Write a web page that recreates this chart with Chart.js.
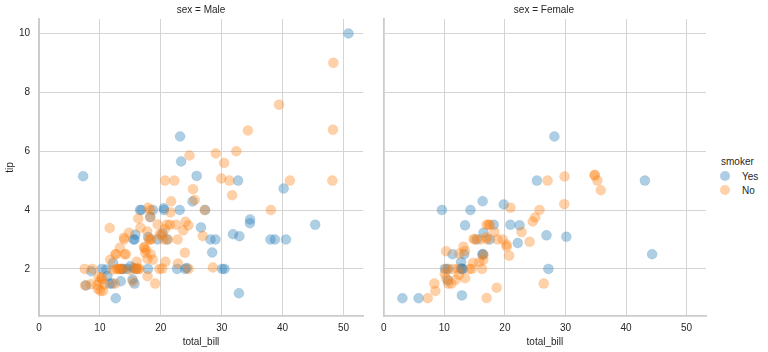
<!DOCTYPE html>
<html lang="en">
<head>
<meta charset="UTF-8">
<title>tips: total_bill vs tip by sex and smoker</title>
<script src="https://cdn.jsdelivr.net/npm/chart.js"></script>
<style>
    body {
        margin: 0;
        background: #ffffff;
        font-family: 'Liberation Sans', Arial, sans-serif;
        color: #262626;
    }
    .stage {
        position: relative;
        width: 768px;
        height: 352px;
        overflow: hidden;
    }
    .panel {
        position: absolute;
        top: 0;
        height: 352px;
    }
    .facet-title {
        position: absolute;
        top: 4px;
        font-size: 10px;
        text-align: center;
        white-space: nowrap;
        transform: translateX(-50%);
    }
    .legend {
        position: absolute;
        left: 716px;
        top: 156px;
        font-size: 10px;
    }
    .legend .head { margin-left: 5px; margin-bottom: 2px; }
    .legend .row { display: flex; align-items: center; height: 14px; }
    .legend .dot {
        width: 10px;
        height: 10px;
        border-radius: 50%;
        margin-left: 4px;
        margin-right: 12px;
    }
</style>
</head>
<body>
<div class="stage">
    <div class="panel" style="left:0;width:370px"><canvas id="male" width="370" height="352"></canvas></div>
    <div class="panel" style="left:375px;width:340px"><canvas id="female" width="340" height="352"></canvas></div>
    <div class="facet-title" style="left:201px">sex = Male</div>
    <div class="facet-title" style="left:544px">sex = Female</div>
    <div class="legend">
        <div class="head">smoker</div>
        <div class="row"><span class="dot" style="background:rgba(31,119,180,0.36)"></span>Yes</div>
        <div class="row"><span class="dot" style="background:rgba(255,127,14,0.36)"></span>No</div>
    </div>
</div>

<script>
// seaborn "tips" data, in row order
const totalBill = [
    16.99, 10.34, 21.01, 23.68, 24.59, 25.29, 8.77, 26.88, 15.04, 14.78,
    10.27, 35.26, 15.42, 18.43, 14.83, 21.58, 10.33, 16.29, 16.97, 20.65,
    17.92, 20.29, 15.77, 39.42, 19.82, 17.81, 13.37, 12.69, 21.7, 19.65,
    9.55, 18.35, 15.06, 20.69, 17.78, 24.06, 16.31, 16.93, 18.69, 31.27,
    16.04, 17.46, 13.94, 9.68, 30.4, 18.29, 22.23, 32.4, 28.55, 18.04,
    12.54, 10.29, 34.81, 9.94, 25.56, 19.49, 38.01, 26.41, 11.24, 48.27,
    20.29, 13.81, 11.02, 18.29, 17.59, 20.08, 16.45, 3.07, 20.23, 15.01,
    12.02, 17.07, 26.86, 25.28, 14.73, 10.51, 17.92, 27.2, 22.76, 17.29,
    19.44, 16.66, 10.07, 32.68, 15.98, 34.83, 13.03, 18.28, 24.71, 21.16,
    28.97, 22.49, 5.75, 16.32, 22.75, 40.17, 27.28, 12.03, 21.01, 12.46,
    11.35, 15.38, 44.3, 22.42, 20.92, 15.36, 20.49, 25.21, 18.24, 14.31,
    14.0, 7.25, 38.07, 23.95, 25.71, 17.31, 29.93, 10.65, 12.43, 24.08,
    11.69, 13.42, 14.26, 15.95, 12.48, 29.8, 8.52, 14.52, 11.38, 22.82,
    19.08, 20.27, 11.17, 12.26, 18.26, 8.51, 10.33, 14.15, 16.0, 13.16,
    17.47, 34.3, 41.19, 27.05, 16.43, 8.35, 18.64, 11.87, 9.78, 7.51,
    14.07, 13.13, 17.26, 24.55, 19.77, 29.85, 48.17, 25.0, 13.39, 16.49,
    21.5, 12.66, 16.21, 13.81, 17.51, 24.52, 20.76, 31.71, 10.59, 10.63,
    50.81, 15.81, 7.25, 31.85, 16.82, 32.9, 17.89, 14.48, 9.6, 34.63,
    34.65, 23.33, 45.35, 23.17, 40.55, 20.69, 20.9, 30.46, 18.15, 23.1,
    15.69, 19.81, 28.44, 15.48, 16.58, 7.56, 10.34, 43.11, 13.0, 13.51,
    18.71, 12.74, 13.0, 16.4, 20.53, 16.47, 26.59, 38.73, 24.27, 12.76,
    30.06, 25.89, 48.33, 13.27, 28.17, 12.9, 28.15, 11.59, 7.74, 30.14,
    12.16, 13.42, 8.58, 15.98, 13.42, 16.27, 10.09, 20.45, 13.28, 22.12,
    24.01, 15.69, 11.61, 10.77, 15.53, 10.07, 12.6, 32.83, 35.83, 29.03,
    27.18, 22.67, 17.82, 18.78
];

const tip = [
    1.01, 1.66, 3.5, 3.31, 3.61, 4.71, 2.0, 3.12, 1.96, 3.23,
    1.71, 5.0, 1.57, 3.0, 3.02, 3.92, 1.67, 3.71, 3.5, 3.35,
    4.08, 2.75, 2.23, 7.58, 3.18, 2.34, 2.0, 2.0, 4.3, 3.0,
    1.45, 2.5, 3.0, 2.45, 3.27, 3.6, 2.0, 3.07, 2.31, 5.0,
    2.24, 2.54, 3.06, 1.32, 5.6, 3.0, 5.0, 6.0, 2.05, 3.0,
    2.5, 2.6, 5.2, 1.56, 4.34, 3.51, 3.0, 1.5, 1.76, 6.73,
    3.21, 2.0, 1.98, 3.76, 2.64, 3.15, 2.47, 1.0, 2.01, 2.09,
    1.97, 3.0, 3.14, 5.0, 2.2, 1.25, 3.08, 4.0, 3.0, 2.71,
    3.0, 3.4, 1.83, 5.0, 2.03, 5.17, 2.0, 4.0, 5.85, 3.0,
    3.0, 3.5, 1.0, 4.3, 3.25, 4.73, 4.0, 1.5, 3.0, 1.5,
    2.5, 3.0, 2.5, 3.48, 4.08, 1.64, 4.06, 4.29, 3.76, 4.0,
    3.0, 1.0, 4.0, 2.55, 4.0, 3.5, 5.07, 1.5, 1.8, 2.92,
    2.31, 1.68, 2.5, 2.0, 2.52, 4.2, 1.48, 2.0, 2.0, 2.18,
    1.5, 2.83, 1.5, 2.0, 3.25, 1.25, 2.0, 2.0, 2.0, 2.75,
    3.5, 6.7, 5.0, 5.0, 2.3, 1.5, 1.36, 1.63, 1.73, 2.0,
    2.5, 2.0, 2.74, 2.0, 2.0, 5.14, 5.0, 3.75, 2.61, 2.0,
    3.5, 2.5, 2.0, 2.0, 3.0, 3.48, 2.24, 4.5, 1.61, 2.0,
    10.0, 3.16, 5.15, 3.18, 4.0, 3.11, 2.0, 2.0, 4.0, 3.55,
    3.68, 5.65, 3.5, 6.5, 3.0, 5.0, 3.5, 2.0, 3.5, 4.0,
    1.5, 4.19, 2.56, 2.02, 4.0, 1.44, 2.0, 5.0, 2.0, 2.0,
    4.0, 2.01, 2.0, 2.5, 4.0, 3.23, 3.41, 3.0, 2.03, 2.23,
    2.0, 5.16, 9.0, 2.5, 6.5, 1.1, 3.0, 1.5, 1.44, 3.09,
    2.2, 3.48, 1.92, 3.0, 1.58, 2.5, 2.0, 3.0, 2.72, 2.88,
    2.0, 3.0, 3.39, 1.47, 3.0, 1.25, 1.0, 1.17, 4.67, 5.92,
    2.0, 2.0, 1.75, 3.0
];

// M = Male, F = Female
const sex = (
    'FMMMFMMMMM' + 'MFMMFMFMFM' + 'MFFMMMMMMF' + 'MMFFMMMFMM' + 'MMMMMMMMMM' +
    'MFFMMMMFMM' + 'MMMMMMFFMM' + 'MFFFFMMMMM' + 'MMFMMFMMMM' + 'MMFFFMMMMM' +
    'FFFFFMMMMF' + 'MFMMFFMFFF' + 'MFMMFFMFFM' + 'MFFFFFFFMF' + 'FMMFFFFFMM' +
    'MMMMMFMFFM' + 'MMFMFMMMFF' + 'MMMMMMMMFM' + 'MMMMMMFMFM' + 'MFMMMMMFFM' +
    'MFFFMFMMMF' + 'MMMFFFMMMF' + 'MFMFMFFMMF' + 'MMMMMMMMFM' + 'FMMF'
).split('');

// Y = smoker, N = non-smoker
const smoker = (
    'NNNNNNNNNN' + 'NNNNNNNNNN' + 'NNNNNNNNNN' + 'NNNNNNNNNN' + 'NNNNNNNNNN' +
    'NNNNNNYNYN' + 'YYYYNNNYNY' + 'NNYYNNYNNN' + 'YNNYNNNNNN' + 'YNYYNYYYYN' +
    'YYYYNYYYNY' + 'NNNNNNNNNN' + 'NNNNNNNNNN' + 'NNNNNNNNYN' + 'NNNNNNNNNN' +
    'NNNNNNNNNN' + 'NNNNYNNNYY' + 'YYYYYYYYYY' + 'YYYYYNYYYY' + 'YYYYYNYYYY' +
    'YYYYYYYYYY' + 'YYNYYYYYYY' + 'YYYNYYYNNY' + 'YYNNYNYYNN' + 'YYNN'
).split('');

const smokerLabels = ['Yes', 'No'];
const xTicks = [0, 10, 20, 30, 40, 50];
const yTicks = [2, 4, 6, 8, 10];

const colors = {
    Yes: { fill: 'rgba(31,119,180,0.36)', edge: 'rgba(31,119,180,0.12)' },
    No:  { fill: 'rgba(255,127,14,0.36)', edge: 'rgba(255,127,14,0.12)' }
};

const font = { family: "'Liberation Sans', Arial, sans-serif", size: 10 };
const textColor = '#262626';
const gridColor = '#d4d4d4';
const spineColor = '#cccccc';

function points(sexCode, smokeCode) {
    const out = [];
    for (let i = 0; i < totalBill.length; i++) {
        if (sex[i] === sexCode && smoker[i] === smokeCode) {
            out.push({ x: totalBill[i], y: tip[i] });
        }
    }
    return out;
}

function keepTicks(list) {
    return function (scale) {
        scale.ticks = list.map(v => ({ value: v }));
    };
}

function makeChart(id, sexCode, showY, yWidth, padRight) {
    const ctx = document.getElementById(id).getContext('2d');
    return new Chart(ctx, {
        type: 'scatter',
        data: {
            datasets: smokerLabels.map(lab => ({
                label: lab,
                data: points(sexCode, lab === 'Yes' ? 'Y' : 'N'),
                backgroundColor: colors[lab].fill,
                borderColor: colors[lab].edge,
                borderWidth: 1,
                pointRadius: 5,
                pointHoverRadius: 5,
                order: lab === 'Yes' ? 2 : 1
            }))
        },
        options: {
            responsive: false,
            animation: false,
            layout: { padding: { top: 19, right: padRight, bottom: 0, left: 0 } },
            plugins: {
                legend: { display: false },
                tooltip: { enabled: false }
            },
            scales: {
                x: {
                    type: 'linear',
                    min: 0,
                    max: 53.2,
                    afterBuildTicks: keepTicks(xTicks),
                    afterFit: s => { s.height = 36; },
                    grid: { color: gridColor, lineWidth: 1, drawTicks: false },
                    border: { display: true, color: spineColor, width: 1.8 },
                    ticks: { color: textColor, font: font, padding: 6, maxRotation: 0 },
                    title: { display: true, text: 'total_bill', color: textColor, font: font, padding: { top: 2, bottom: 4 } }
                },
                y: {
                    type: 'linear',
                    min: 0.4,
                    max: 10.49,
                    afterBuildTicks: keepTicks(yTicks),
                    afterFit: s => { s.width = yWidth; },
                    grid: { color: gridColor, lineWidth: 1, drawTicks: false },
                    border: { display: true, color: spineColor, width: 1.8 },
                    ticks: { display: showY, color: textColor, font: font, padding: 9 },
                    title: { display: showY, text: 'tip', color: textColor, font: font, padding: { top: 4, bottom: 4 } }
                }
            }
        }
    });
}

makeChart('male', 'M', true, 39, 7);
makeChart('female', 'F', false, 7, 9);
</script>
</body>
</html>
